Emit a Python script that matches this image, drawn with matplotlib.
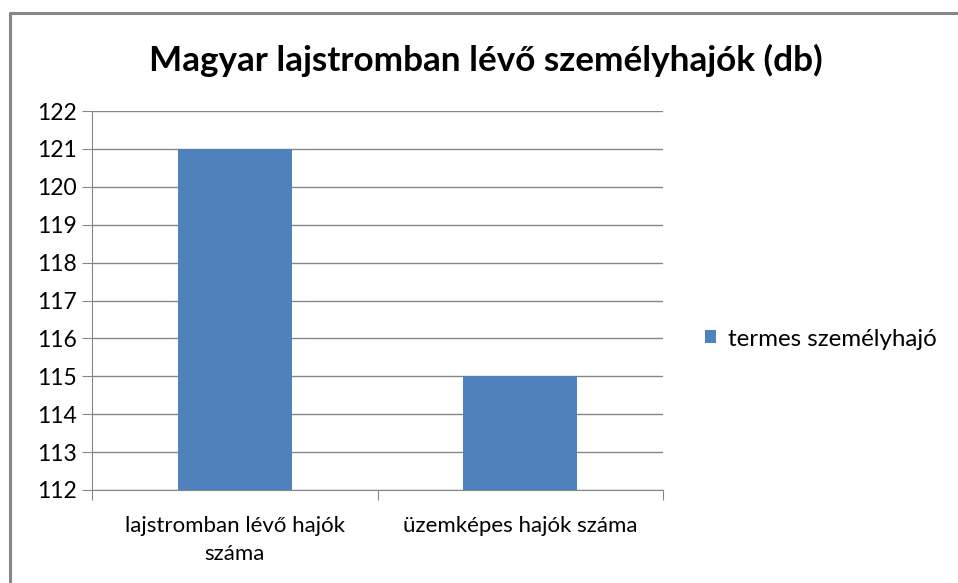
import matplotlib.pyplot as plt
from matplotlib.lines import Line2D

## data
categories = ['lajstromban lévő hajók\nszáma', 'üzemképes hajók száma']
values     = [121, 115]
series     = 'termes személyhajó'
title      = 'Magyar lajstromban lévő személyhajók (db)'
yticks     = list(range(112, 123))

plt.rcParams['font.family'] = ['Lato', 'DejaVu Sans']
grey = '#868686'
blue = '#4F81BD'
W, H = 958, 583

fig = plt.figure(figsize=(W/100, H/100), dpi=100)
ax = fig.add_axes([92/W, 1-490/H, (663-92)/W, (490-111)/H])

ax.bar(range(len(values)), values, width=0.4, color=blue, label=series, zorder=3)
ax.set_xlim(-0.5, len(values) - 0.5)
ax.set_ylim(yticks[0], yticks[-1])
ax.set_yticks(yticks)
ax.grid(axis='y', color=grey, lw=1, zorder=0)

ax.set_xticks([-0.5, 0.5, 1.5])
ax.set_xticklabels([])
ax.set_xticks(range(len(values)), minor=True)
ax.set_xticklabels(categories, minor=True, fontsize=16, linespacing=1.5)
ax.tick_params(axis='x', which='minor', length=0, pad=19)
ax.tick_params(axis='x', which='major', length=7, color=grey)
ax.tick_params(axis='y', length=7, color=grey, labelsize=16.5, pad=4)
for s in ['top', 'right']:
    ax.spines[s].set_visible(False)
for s in ['left', 'bottom']:
    ax.spines[s].set_color(grey)

fig.text(0.507, 1-60/H, title, ha='center', va='center', fontsize=25.3, fontweight='bold')

ax.legend(loc='center left', bbox_to_anchor=(705/W, 1-339/H), bbox_transform=fig.transFigure,
          frameon=False, fontsize=17.4, handlelength=0.45, handleheight=0.45, handletextpad=0.5,
          borderaxespad=0, borderpad=0)

# chart frame (only left and top edges are inside the picture)
fig.add_artist(Line2D([9.5/W, 9.5/W, 1.05], [-0.05, 1-12.5/H, 1-12.5/H],
                      transform=fig.transFigure, color=grey, lw=2.2))

fig.savefig('out.png', dpi=100)
